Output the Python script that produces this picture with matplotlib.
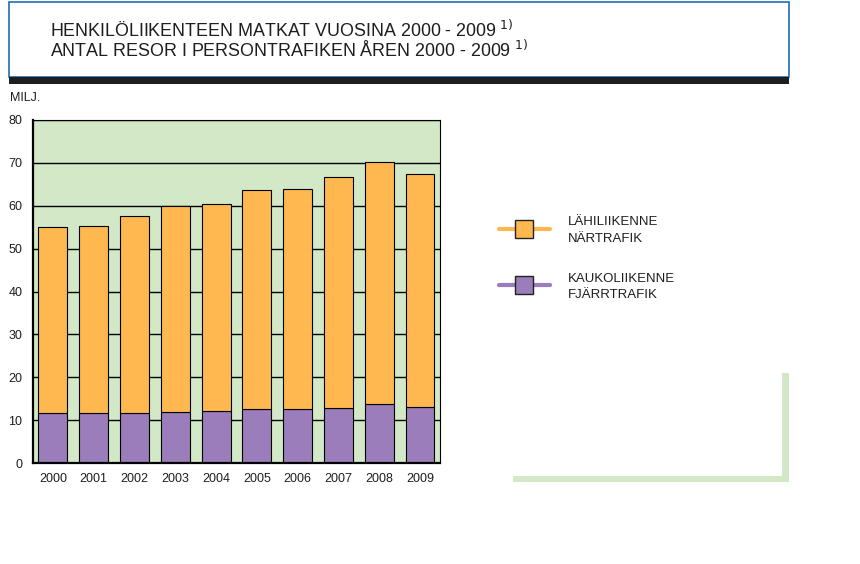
import matplotlib
matplotlib.use("Agg")
import matplotlib.pyplot as plt
from matplotlib.patches import Rectangle
from matplotlib.lines import Line2D

# data (millions of trips)
years = ["2000", "2001", "2002", "2003", "2004", "2005", "2006", "2007", "2008", "2009"]
totals = [55.0, 55.2, 57.7, 60.0, 60.3, 63.6, 64.0, 66.8, 70.1, 67.3]
long_distance = [11.6, 11.6, 11.6, 11.9, 12.1, 12.6, 12.6, 12.9, 13.8, 13.1]
local = [t - k for t, k in zip(totals, long_distance)]
yticks = [0, 10, 20, 30, 40, 50, 60, 70, 80]

ORANGE = "#ffb84f"
PURPLE = "#9a7dba"
GREEN = "#d2e8c6"
BLUE = "#1f6cb4"
TXT = "#1e1e1e"

plt.rcParams["font.family"] = ["Liberation Sans", "DejaVu Sans"]

fig = plt.figure(figsize=(8.6, 5.64), dpi=100)
W, H = 860, 564

def fx(x): return x / W
def fy(y): return 1 - y / H

# title box
fig.patches.append(Rectangle((fx(9), fy(77)), fx(780), 75 / H, transform=fig.transFigure,
                             facecolor="white", edgecolor=BLUE, lw=1.2))
fig.patches.append(Rectangle((fx(9), fy(84)), fx(780), 7 / H, transform=fig.transFigure,
                             facecolor="#1e1e1e", edgecolor="none"))
fig.text(fx(50), fy(30), "HENKILÖLIIKENTEEN MATKAT VUOSINA 2000 - 2009$^{\\ 1)}$",
         fontsize=12.9, va="center", ha="left", color=TXT)
fig.text(fx(50), fy(50), "ANTAL RESOR I PERSONTRAFIKEN ÅREN 2000 - 2009$^{\\ 1)}$",
         fontsize=12.9, va="center", ha="left", color=TXT)

# chart
ax = fig.add_axes([fx(33.3), fy(463), (440 - 33.3) / W, 343 / H])
ax.set_facecolor(GREEN)
x = list(range(len(years)))
for y in yticks[1:]:
    ax.axhline(y, color="black", lw=1.0, zorder=1)
ax.bar(x, long_distance, width=0.71, color=PURPLE, edgecolor="black", lw=0.8, zorder=2)
ax.bar(x, local, bottom=long_distance, width=0.71, color=ORANGE, edgecolor="black", lw=0.8, zorder=2)
ax.set_xlim(-0.48, 9.49)
ax.set_ylim(0, 80)
ax.set_yticks(yticks)
ax.set_xticks(x)
ax.set_xticklabels(years)
ax.tick_params(length=0, labelsize=9, colors=TXT)
ax.tick_params(axis="y", pad=8)
ax.tick_params(axis="x", pad=7)
for s in ax.spines.values():
    s.set_linewidth(0.8)
ax.spines["left"].set_linewidth(1.6)
ax.spines["bottom"].set_linewidth(1.6)
fig.text(fx(10), fy(98), "MILJ.", fontsize=9, va="center", ha="left", color=TXT)

# legend
for yy, col, l1, l2 in [(229, ORANGE, "LÄHILIIKENNE", "NÄRTRAFIK"),
                        (285, PURPLE, "KAUKOLIIKENNE", "FJÄRRTRAFIK")]:
    fig.add_artist(Line2D([fx(499), fx(550)], [fy(yy), fy(yy)], color=col, lw=3,
                          solid_capstyle="round", transform=fig.transFigure))
    fig.add_artist(Line2D([fx(524)], [fy(yy)], marker="s", markersize=12.5, color=col,
                          markeredgecolor="#222222", markeredgewidth=1, transform=fig.transFigure))
    fig.text(fx(568), fy(yy - 6.5), l1, fontsize=9.5, va="center", ha="left", color=TXT)
    fig.text(fx(568), fy(yy + 10), l2, fontsize=9.5, va="center", ha="left", color=TXT)

# green corner decoration
fig.patches.append(Rectangle((fx(782), fy(482)), fx(7), 109 / H, transform=fig.transFigure,
                             facecolor=GREEN, edgecolor="none"))
fig.patches.append(Rectangle((fx(513), fy(482)), fx(276), 6 / H, transform=fig.transFigure,
                             facecolor=GREEN, edgecolor="none"))

fig.savefig("out.png", dpi=100)
